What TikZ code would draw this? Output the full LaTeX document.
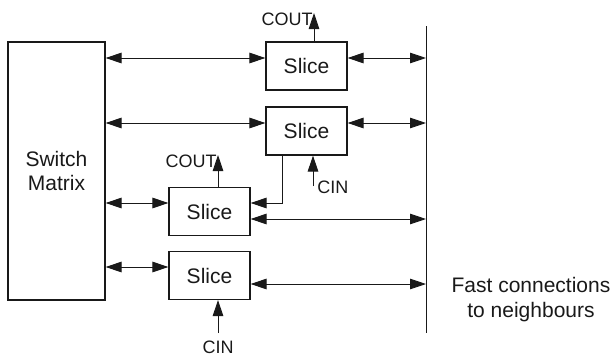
\documentclass[tikz,border=0pt]{standalone}
\usepackage{fontspec}
\setmainfont{Liberation Sans}
\usetikzlibrary{arrows.meta}
\begin{document}
\begin{tikzpicture}[x=1pt,y=-1pt,
  >={Triangle[length=16pt,width=10.5pt]},
  line width=0.9pt, color=black!90,
  slice/.style={draw, line width=1.1pt, minimum width=81pt, minimum height=48pt,
    inner sep=0pt, font=\fontsize{21}{24}\selectfont},
  lbl/.style={inner sep=0pt, font=\fontsize{18}{20}\selectfont}]
\useasboundingbox (0,0) rectangle (615,356);
\node[slice, minimum width=97pt, minimum height=258pt, align=center] (sm) at (56.5,171) {Switch\\Matrix};
\node[slice] (s1) at (306.5,66) {Slice};
\node[slice] (s2) at (306.5,131) {Slice};
\node[slice] (s3) at (209.5,211.5) {Slice};
\node[slice] (s4) at (209.5,275.5) {Slice};
% fast connections
\coordinate (bt) at (426,26);
\coordinate (bb) at (426,333);
\draw (bt) -- (bb);
\node[align=center, inner sep=0pt, font=\fontsize{21}{25}\selectfont] (fast) at (531,300) {Fast connections\\to neighbours};
\draw[<->] (sm.east |- 0,58) -- (s1.west |- 0,58);
\draw[<->] (s1.east |- 0,58) -- (bt |- 0,58);
\draw[<->] (sm.east |- 0,123) -- (s2.west |- 0,123);
\draw[<->] (s2.east |- 0,123) -- (bt |- 0,123);
\draw[<->] (sm.east |- 0,203) -- (s3.west |- 0,203);
\draw[<->] (s3.east |- 0,219) -- (bt |- 0,219);
\draw[<->] (sm.east |- 0,267) -- (s4.west |- 0,267);
\draw[<->] (s4.east |- 0,284) -- (bt |- 0,284);
% carry chain
\draw[->] (s2.south -| 282,0) |- (s3.east |- 0,203);
\coordinate (c1) at (314,13);
\coordinate (c3) at (218,155);
\coordinate (c2) at (313,186);
\coordinate (c4) at (218,333);
\draw[->] (s1.north -| c1) -- (c1);
\draw[->] (s3.north -| c3) -- (c3);
\draw[->] (c2) -- (s2.south -| c2);
\draw[->] (c4) -- (s4.south -| c4);
\node[lbl, anchor=east] (cout1) at (313,19) {COUT};
\node[lbl, anchor=east] (cout3) at (217,161) {COUT};
\node[lbl, anchor=west] (cin2) at (317,187) {CIN};
\node[lbl] (cin4) at (218,347) {CIN};
\end{tikzpicture}
\end{document}
